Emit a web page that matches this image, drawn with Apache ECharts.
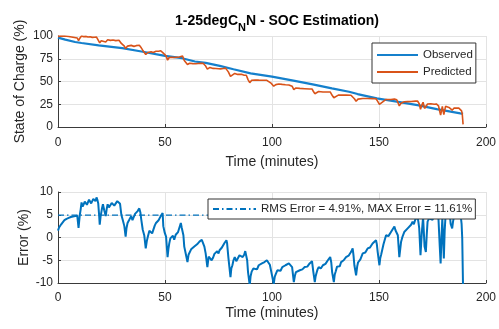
<!DOCTYPE html>
<html>
<head>
<meta charset="utf-8">
<script src="https://cdn.jsdelivr.net/npm/echarts@6/dist/echarts.min.js"></script>
<style>
html,body{margin:0;padding:0;background:#fff;}
#c{width:499px;height:329px;}
</style>
</head>
<body>
<div id="c"></div>
<script>
// ---- data ----
const X_TICKS = [0, 50, 100, 150, 200];
const SOC_TICKS = [0, 25, 50, 75, 100];
const ERR_TICKS = [-10, -5, 0, 5, 10];

const TIME_OBS = [0, 3.4, 8, 11, 19, 30, 39, 50, 58, 64, 69, 75.6, 82, 90, 100, 110, 119, 128, 136, 140, 149, 159, 168, 177, 188, 189.3];
const OBSERVED = [98.2, 96, 93.4, 92.3, 89.7, 86.7, 83, 78.2, 75.6, 72, 70.5, 67.2, 63.5, 59, 55.4, 51, 46.9, 42.4, 38.7, 36.2, 31.4, 27.7, 24, 19.6, 15, 14.5];

const TIME_PRED = [0,1,2,3,5,7,9,9.6,10.2,11,12,13,14,15,16,17,18,18.8,19.5,20.2,21,22.3,23.2,24.5,25.7,27,28.5,29.6,31,31.6,32.5,34.2,35.5,36.5,38,38.9,39.6,41,42,43.5,44.5,45.8,47,48,48.9,49.2,50.5,51.2,52,53,54.3,55.5,56.7,57.4,58.2,59,60.5,61.5,63,64.4,65.5,66.7,67.8,69,69.8,71,72.5,73.7,75,76,77.2,78.3,79,79.6,80.6,81.5,82.6,84,85.7,87,88,88.8,89.6,90.5,92.2,93.8,95.3,96.5,97.6,98.4,99.7,100.8,101.8,103.2,104.8,106.3,107.9,109.4,110.2,111.2,113,115.3,117.6,118.7,119.3,120,120.8,121.8,123.8,126.1,127.2,128.1,128.9,129.8,131,132.3,134.6,136.9,137.7,138.5,139.3,140.2,142.4,144.7,147,148.6,149.4,150.2,151,153.3,155.6,157.2,158.3,158.8,159.5,160.3,161.8,163.4,165,165.7,167,168,168.8,169.4,170,170.6,171.3,171.9,172.7,174.2,175.8,176.8,177.8,178.4,178.8,179.6,180.3,181.1,182,182.7,183.5,184.2,185,185.8,187.3,188,188.6,188.9,189.3];
const PREDICTED = [99.6,99.9,99.9,100,99.4,98.6,97.8,94.9,97.6,100,99.3,99.6,98.9,99.2,98.5,98.7,98.8,97.3,92.4,94.8,96.5,93.5,95.9,95.2,95.6,94.9,95.4,91.8,88.8,86.2,88.9,89.7,88.6,89.4,89.8,87.0,84.4,79.7,81.9,82.7,81.8,83.2,83.3,83.8,84.1,81.1,78.2,73.5,76.3,76.6,76.3,76.7,77.0,79.0,78.0,73.0,68.7,70.0,69.6,69.5,69.8,69.9,70.0,67.0,63.6,65.5,64.4,64.3,64.0,63.9,64.3,64.7,64.0,60.6,55.6,57.7,58.9,57.8,57.9,56.9,56.9,52.1,48.7,51.3,51.7,51.5,51.4,51.3,51.3,50.8,47.9,44.8,46.6,47.2,46.8,46.5,46.2,44.8,41.1,42.9,42.4,42.1,41.8,41.8,39.3,36.6,38.2,39.0,38.4,38.4,38.5,34.8,32.2,34.2,35.0,35.0,35.0,34.9,35.2,31.0,28.3,30.6,31.4,31.3,31.2,31.0,28.1,24.9,26.9,30.3,30.2,30.8,30.0,28.3,23.2,26.2,27.8,27.9,28.0,28.4,28.4,28.6,25.6,19.4,24.0,27.2,20.4,18.9,25.2,25.6,25.0,25.3,23.3,17.0,13.1,22.7,13.6,22.7,23.0,21.5,19.8,18.5,20.7,21.0,20.7,20.6,17.8,14.5,2.9];

const TIME_ERR = [0,0.5,1,1.5,2,3,4,5,6,7,8,9,9.6,10.2,10.6,11,11.5,12,12.5,13,13.5,14,14.5,15,15.5,16,16.5,17,17.5,18,18.4,18.8,19.2,19.5,19.9,20.2,20.6,21,21.6,22.3,22.8,23.2,23.8,24.5,25.1,25.7,26.3,27,27.7,28.5,29,29.6,30.3,31,31.6,32,32.5,33.3,34.2,34.8,35.5,36,36.5,37.2,38,38.5,38.9,39.6,40.3,41,41.5,42,42.7,43.5,44,44.5,45.2,45.8,46.4,47,47.5,48,48.5,48.9,49.2,49.9,50.5,51.2,51.6,52,52.5,53,53.7,54.3,55,55.5,56.1,56.7,57.4,57.8,58.2,58.6,59,59.8,60.5,61,61.5,62.2,63,63.7,64.4,65,65.5,66.1,66.7,67.2,67.8,68.4,69,69.8,70.4,71,71.8,72.5,73.1,73.7,74.4,75,75.5,76,76.6,77.2,77.8,78.3,78.7,79,79.6,80.1,80.6,81,81.5,82,82.6,83.3,84,84.8,85.7,86.3,87,87.5,88,88.4,88.8,89.6,90,90.5,91.3,92.2,93,93.8,94.6,95.3,96,96.5,97,97.6,98,98.4,99,99.7,100.3,100.8,101.3,101.8,102.5,103.2,104,104.8,105.5,106.3,107.1,107.9,108.6,109.4,110.2,110.7,111.2,112,113,114.2,115.3,116.5,117.6,118.2,118.7,119.3,120,120.4,120.8,121.3,121.8,122.8,123.8,125,126.1,126.7,127.2,127.7,128.1,128.9,129.3,129.8,130.4,131,131.7,132.3,133.5,134.6,135.8,136.9,137.3,137.7,138.1,138.5,139.3,139.8,140.2,141.3,142.4,143.6,144.7,145.8,147,147.8,148.6,149,149.4,150.2,150.6,151,152.1,153.3,154.4,155.6,156.4,157.2,157.7,158.3,158.8,159.5,160.3,161,161.8,162.6,163.4,164.2,165,165.7,166.3,167,167.5,168,168.4,168.8,169.4,170,170.6,171.3,171.9,172.3,172.7,173.4,174.2,175,175.8,176.3,176.8,177.3,177.8,178.4,178.8,179.2,179.6,180.3,180.7,181.1,181.6,182,182.7,183.1,183.5,184.2,184.6,185,185.8,186.5,187.3,188,188.6,188.9,189.3];
const ERROR = [1.5,2.2,2.6,2.9,3.2,3.8,4.1,4.3,4.5,4.6,4.7,4.8,2.1,5.0,6.2,7.7,6.8,7.3,7.9,8.0,7.2,7.6,8.3,8.2,7.5,7.8,8.5,8.4,8.0,8.8,8.3,7.5,5.0,2.8,4.6,5.4,6.5,7.3,6.0,4.7,6.4,7.3,6.6,7.0,7.6,7.7,7.0,7.4,8.0,8.3,7.4,5.0,3.8,2.5,0.2,2.0,3.2,3.9,4.7,3.8,4.2,5.2,5.4,5.8,6.4,5.5,4.0,1.7,0.5,-2.4,-0.8,0.2,1.5,1.7,0.9,1.2,2.6,3.2,2.8,3.8,4.2,4.7,4.3,5.4,2.5,1.0,0.2,-4.3,-2.5,-1.3,-0.2,-0.6,0.4,-0.5,0.6,0.3,1.2,1.0,3.2,2.2,2.5,0.5,-2.0,-3.8,-5.4,-3.8,-3.5,-2.6,-3.0,-2.0,-2.4,-1.5,-1.8,-0.9,-1.3,-0.5,-0.9,-2.0,-3.5,-6.5,-4.2,-4.0,-5.0,-4.4,-3.6,-3.9,-3.0,-3.5,-2.8,-3.1,-2.2,-2.0,-1.2,-0.9,-0.6,-1.2,-4.3,-6.5,-8.7,-6.8,-6.1,-5.0,-4.3,-5.2,-4.6,-3.9,-3.5,-4.3,-3.8,-3.0,-3.2,-5.0,-7.6,-10.5,-8.5,-7.5,-6.8,-6.5,-7.0,-6.1,-6.3,-5.7,-6.0,-5.4,-5.8,-5.0,-4.8,-5.2,-6.0,-7.6,-9.0,-10.2,-8.6,-8.0,-7.2,-6.8,-7.3,-6.5,-6.9,-6.1,-6.5,-5.7,-5.9,-6.5,-9.8,-8.4,-7.6,-8.0,-7.2,-7.0,-6.5,-6.4,-5.7,-6.0,-5.2,-7.5,-9.8,-8.5,-7.8,-7.0,-6.5,-6.8,-6.1,-5.8,-5.0,-5.3,-4.3,-5.5,-7.6,-9.8,-8.2,-7.4,-6.4,-6.0,-6.3,-5.4,-5.0,-4.3,-4.0,-3.2,-3.0,-2.4,-4.0,-6.1,-8.3,-6.4,-5.5,-4.8,-3.5,-3.3,-2.4,-2.2,-1.3,-1.4,-0.6,-1.5,-3.2,-6.1,-4.5,-3.8,-1.5,0.5,0.3,1.2,1.8,2.4,1.6,2.0,0.5,-4.3,-1.0,0.2,1.2,0.8,2.0,2.2,2.8,3.5,2.9,4.0,3.8,4.6,3.5,2.0,-3.9,1.0,4.5,-2.0,-3.2,0.5,3.5,4.2,4.6,3.9,4.8,5.2,5.6,4.8,4.0,-2.0,-5.7,0.0,4.2,-4.6,1.5,4.8,5.8,5.5,4.3,5.0,3.0,2.0,3.5,4.5,5.2,5.8,5.4,5.6,3.0,-0.2,-11.6];

const RMS_TIME = [0, 189.3];
const RMS_VALUE = [4.91, 4.91];
const RMS_LABEL = 'RMS Error = 4.91%, MAX Error = 11.61%';

function pairs(xs, ys) { return xs.map((x, i) => [x, ys[i]]); }

const FONT = 'Liberation Sans, Arial, Helvetica, sans-serif';
const TXT = '#262626';
const BLUE = '#0072BD';
const OBS_BLUE = '#1580CC';
const ORANGE = '#D95319';

function xAxisCfg(gridIndex, labelMargin, nameGap) {
  return {
    type: 'value', gridIndex, min: X_TICKS[0], max: X_TICKS[X_TICKS.length - 1],
    interval: X_TICKS[1] - X_TICKS[0],
    name: 'Time (minutes)', nameLocation: 'middle', nameGap, nameMoveOverlap: false,
    nameTextStyle: { fontFamily: FONT, fontSize: 14, color: TXT },
    axisLine: { show: true, onZero: false, lineStyle: { color: '#3a3a3a', width: 1 } },
    axisTick: { show: true, inside: true, length: 3, lineStyle: { color: '#3a3a3a' } },
    axisLabel: { fontFamily: FONT, fontSize: 12, color: TXT, margin: labelMargin },
    splitLine: { show: true, lineStyle: { color: '#e3e3e3', width: 1 } }
  };
}
function yAxisCfg(gridIndex, ticks, name, nameGap) {
  return {
    type: 'value', gridIndex, min: ticks[0], max: ticks[ticks.length - 1],
    interval: ticks[1] - ticks[0],
    name, nameLocation: 'middle', nameGap, nameMoveOverlap: false,
    nameTextStyle: { fontFamily: FONT, fontSize: 14, color: TXT },
    axisLine: { show: true, onZero: false, lineStyle: { color: '#3a3a3a', width: 1 } },
    axisTick: { show: true, inside: true, length: 3, lineStyle: { color: '#3a3a3a' } },
    axisLabel: { fontFamily: FONT, fontSize: 12, color: TXT, margin: 5 },
    splitLine: { show: true, lineStyle: { color: '#e3e3e3', width: 1 } }
  };
}

const chart = echarts.init(document.getElementById('c'), null, { renderer: 'canvas' });
chart.setOption({
  animation: false,
  backgroundColor: '#ffffff',
  title: {
    text: '{a|1-25degC}{s|N}{a|N - SOC Estimation)}',
    left: 272, top: 9, textAlign: 'center',
    textStyle: {
      rich: {
        a: { fontFamily: FONT, fontSize: 14, fontWeight: 'bold', color: '#000', lineHeight: 16, verticalAlign: 'top' },
        s: { fontFamily: FONT, fontSize: 11, fontWeight: 'bold', color: '#000', lineHeight: 11, padding: [8, 0, 0, 0], verticalAlign: 'top' }
      }
    }
  },
  grid: [
    { left: 58, right: 12, top: 36, height: 91 },
    { left: 58, right: 12, top: 192, height: 91 }
  ],
  legend: [
    {
      data: ['Observed', 'Predicted'], orient: 'vertical', left: 372, top: 43,
      padding: [6, 3, 5, 4], itemWidth: 41, itemHeight: 12, itemGap: 5,
      itemStyle: { opacity: 0 },
      backgroundColor: '#fff', borderColor: '#333', borderWidth: 1, borderRadius: 0,
      textStyle: { fontFamily: FONT, fontSize: 11.5, color: TXT }
    },
    {
      data: [RMS_LABEL], orient: 'vertical', left: 208, top: 199,
      padding: [4, 3, 4, 4], itemWidth: 43, itemHeight: 12,
      itemStyle: { opacity: 0 },
      backgroundColor: '#fff', borderColor: '#333', borderWidth: 1, borderRadius: 0,
      textStyle: { fontFamily: FONT, fontSize: 11.5, color: TXT }
    }
  ],
  xAxis: [ xAxisCfg(0, 10, 28), xAxisCfg(1, 9, 23) ],
  yAxis: [ yAxisCfg(0, SOC_TICKS, 'State of Charge (%)', 31), yAxisCfg(1, ERR_TICKS, 'Error (%)', 27) ],
  series: [
    { name: 'Observed', type: 'line', xAxisIndex: 0, yAxisIndex: 0, symbol: 'none',
      data: pairs(TIME_OBS, OBSERVED), lineStyle: { color: OBS_BLUE, width: 2.2 }, itemStyle: { color: OBS_BLUE } },
    { name: 'Predicted', type: 'line', xAxisIndex: 0, yAxisIndex: 0, symbol: 'none',
      data: pairs(TIME_PRED, PREDICTED), lineStyle: { color: ORANGE, width: 1.6 }, itemStyle: { color: ORANGE } },
    { name: RMS_LABEL, type: 'line', xAxisIndex: 1, yAxisIndex: 1, symbol: 'none',
      data: pairs(RMS_TIME, RMS_VALUE), lineStyle: { color: BLUE, width: 1.3, type: [6, 3, 1.5, 3] }, itemStyle: { color: BLUE } },
    { name: 'Error', type: 'line', xAxisIndex: 1, yAxisIndex: 1, symbol: 'none',
      data: pairs(TIME_ERR, ERROR), lineStyle: { color: BLUE, width: 2 }, itemStyle: { color: BLUE } }
  ]
});
</script>
</body>
</html>
